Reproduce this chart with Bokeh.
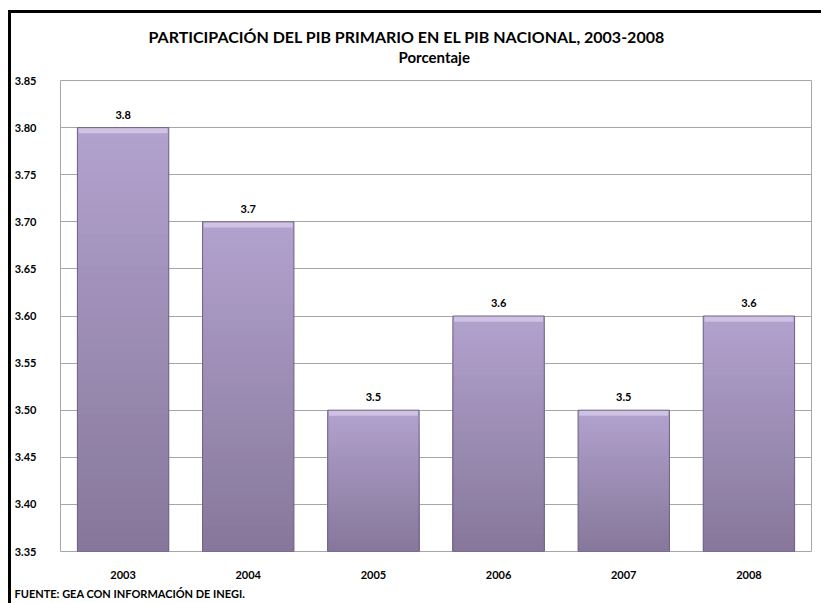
import numpy as np
from bokeh.plotting import figure
from bokeh.models import FactorRange, Range1d, Title, SingleIntervalTicker, ColumnDataSource, NumeralTickFormatter
from bokeh.core.properties import value
from bokeh.embed import file_html
from bokeh.resources import INLINE

years = ["2003", "2004", "2005", "2006", "2007", "2008"]
values = [3.8, 3.7, 3.5, 3.6, 3.5, 3.6]
labels = ["3.8", "3.7", "3.5", "3.6", "3.5", "3.6"]
y_min, y_max = 3.35, 3.85

title_text = "PARTICIPACIÓN DEL PIB PRIMARIO EN EL PIB NACIONAL, 2003-2008"
subtitle_text = "Porcentaje"
source_text = "FUENTE: GEA CON INFORMACIÓN DE INEGI."

FONT = "Lato"

p = figure(x_range=FactorRange(*years, range_padding=0), y_range=Range1d(y_min, y_max),
           frame_width=751, frame_height=471,
           min_border_left=45, min_border_right=12, min_border_top=67, min_border_bottom=52,
           output_backend="svg", toolbar_location=None, title=None)

# gradient bars (light top -> dark bottom), painted as nested bands
top_rgb = np.array([0xB2, 0xA2, 0xCE])
bot_rgb = np.array([0x86, 0x77, 0x9A])
N = 40
xs, tops, cols = [], [], []
for i in range(N, 0, -1):
    t = (i - 0.5) / N
    c = bot_rgb + (top_rgb - bot_rgb) * t
    for yr, v in zip(years, values):
        xs.append(yr)
        tops.append(y_min + (v - y_min) * i / N)
        cols.append("#%02x%02x%02x" % tuple(int(round(k)) for k in c))
p.vbar(x=xs, bottom=y_min, top=tops, width=0.73, fill_color=cols, line_color=None)

# top highlight
p.vbar(x=years, bottom=[v - 0.006 for v in values], top=values, width=0.71,
       fill_color="#CFC2E3", line_color=None)
# bar outline
p.vbar(x=years, bottom=y_min, top=values, width=0.73, fill_color=None,
       line_color="#6F6386", line_width=1)

src = ColumnDataSource(dict(x=years, y=values, t=labels))
p.text(x="x", y="y", text="t", source=src, y_offset=-9, text_align="center",
       text_baseline="bottom", text_font=value(FONT), text_font_style="bold",
       text_font_size="11px", text_color="black")

p.yaxis.ticker = SingleIntervalTicker(interval=0.05)
p.yaxis.formatter = NumeralTickFormatter(format="0.00")
for ax in (p.xaxis[0], p.yaxis[0]):
    ax.axis_line_color = None
    ax.major_tick_line_color = None
    ax.minor_tick_line_color = None
    ax.major_label_text_font = FONT
    ax.major_label_text_font_style = "bold"
    ax.major_label_text_font_size = "11px"
    ax.major_label_text_color = "black"
p.yaxis.major_label_standoff = 18
p.xaxis.major_label_standoff = 13

p.xgrid.grid_line_color = None
p.ygrid.grid_line_color = "#A6A6A6"
p.ygrid.grid_line_width = 1
p.ygrid.ticker = SingleIntervalTicker(interval=0.05)
p.outline_line_color = "#A6A6A6"
p.outline_line_width = 1

p.add_layout(Title(text=subtitle_text, align="left", offset=338, standoff=29,
                   text_font=FONT, text_font_style="bold", text_font_size="15px",
                   text_color="black"), "above")
p.add_layout(Title(text=title_text, align="left", offset=88, standoff=-28,
                   text_font=FONT, text_font_style="bold", text_font_size="16px",
                   text_color="black"), "above")
p.add_layout(Title(text=source_text, align="left", offset=-46, standoff=6,
                   text_font=FONT, text_font_style="bold", text_font_size="11px",
                   text_color="black"), "below")

p.styles = {"margin-left": "8px", "margin-top": "10px",
            "border-left": "3px solid black", "border-top": "3px solid black"}

open("out.html", "w").write(file_html(p, INLINE))
